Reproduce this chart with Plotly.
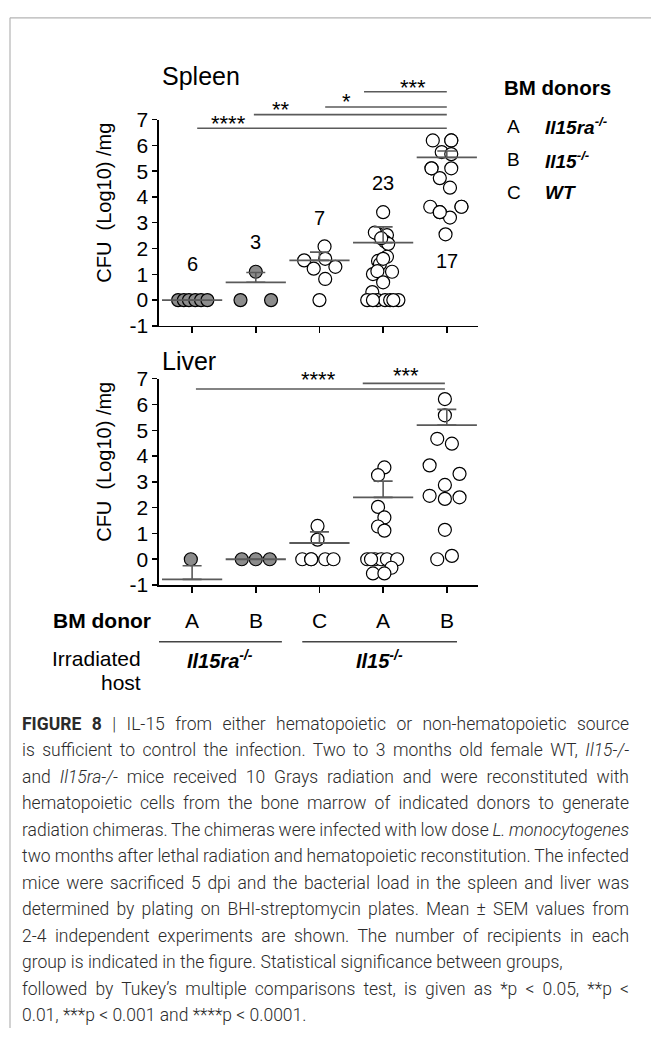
import json
import plotly.graph_objects as go

W, H = 651, 1039

# ---------------- data ----------------
groups = [1, 2, 3, 4, 5]
donor_labels = ["A", "B", "C", "A", "B"]
filled_groups = [True, True, False, False, False]
y_ticks = [-1, 0, 1, 2, 3, 4, 5, 6, 7]

# Spleen: individual values (log10 CFU/mg) and horizontal scatter offsets per group
spleen_vals = [
    [0, 0, 0, 0, 0, 0],
    [0, 1.10, 0],
    [2.08, 1.54, 1.60, 1.22, 1.29, 0.82, 0],
    [3.41, 2.56, 2.52, 2.62, 2.27, 2.18, 2.40, 1.68, 1.52, 1.40, 1.60, 1.10,
     1.01, 1.12, 0.69, 0.31, 0, 0, 0, 0, 0, 0, 0],
    [6.19, 6.19, 5.74, 5.66, 6.19, 5.11, 5.11, 4.73, 4.36, 3.62, 3.41, 3.20,
     3.62, 2.55, 5.11, 3.41, 3.62],
]
spleen_dx = [
    [-0.22, -0.13, -0.05, 0.05, 0.14, 0.24],
    [-0.24, 0, 0.24],
    [0.08, -0.24, 0.09, -0.09, 0.25, 0.09, 0],
    [0, -0.08, 0.06, -0.13, 0.03, 0.08, -0.03, 0.06, -0.08, -0.05, 0, 0.14,
     -0.16, -0.09, 0, -0.17, -0.25, -0.09, 0.03, 0.11, 0.24, -0.16, 0.16],
    [-0.22, 0.07, -0.08, 0.07, 0.07, -0.24, 0.07, -0.11, 0.05, -0.26, -0.11, 0.05,
     0.23, -0.02, -0.24, -0.11, 0.23],
]
spleen_mean = [0, 0.69, 1.54, 2.23, 5.53]
spleen_sem = [0, 0.38, 0.32, 0.61, 0.25]
spleen_n_text = ["6", "3", "7", "23", "17"]
spleen_n_y = [1.40, 2.27, 3.18, 4.55, 1.52]

spleen_sig_from = [1.08, 1.97, 3.09, 3.70]
spleen_sig_to = [5.0, 5.0, 5.0, 5.0]
spleen_sig_y = [6.67, 7.20, 7.50, 8.09]
spleen_sig_text = ["****", "**", "*", "***"]
spleen_sig_text_x = [1.57, 2.40, 3.42, 4.47]
spleen_sig_text_y = [6.84, 7.40, 7.70, 8.24]

# Liver
liver_vals = [
    [0],
    [0, 0, 0],
    [1.29, 0.76, 0, 0, 0, 0, 0],
    [3.56, 3.26, 2.03, 1.62, 1.27, 1.11, 0, 0, 0, 0, 0, -0.33, -0.55, -0.55, 0],
    [6.21, 5.58, 4.67, 4.48, 3.64, 3.31, 2.88, 2.46, 2.34, 2.40, 1.14, 0.0, 0.13],
]
liver_dx = [
    [-0.02],
    [-0.22, 0, 0.22],
    [-0.03, -0.03, -0.27, -0.13, 0.09, 0.22, -0.13],
    [0.02, -0.08, -0.08, 0.02, -0.08, 0.02, -0.25, -0.13, -0.03, 0.06, 0.22,
     0.13, -0.16, 0.02, -0.19],
    [-0.03, -0.03, -0.15, 0.08, -0.27, 0.20, -0.03, -0.27, -0.03, 0.20, -0.03,
     -0.15, 0.08],
]
liver_mean = [-0.78, 0, 0.63, 2.40, 5.20]
liver_sem = [0.53, 0, 0.43, 0.63, 0.61]

liver_sig_from = [1.06, 3.68]
liver_sig_to = [4.97, 4.97]
liver_sig_y = [6.60, 6.82]
liver_sig_text = ["****", "***"]
liver_sig_text_x = [2.98, 4.36]
liver_sig_text_y = [6.95, 7.14]

legend_title = "BM donors"
legend_keys = ["A", "B", "C"]
legend_names = [
    "<b><i>Il15ra<sup>-/-</sup></i></b>",
    "<b><i>Il15<sup>-/-</sup></i></b>",
    "<b><i>WT</i></b>",
]
host_labels = ["<b><i>Il15ra<sup>-/-</sup></i></b>", "<b><i>Il15<sup>-/-</sup></i></b>"]
host_center = [1.44, 3.94]
host_span_from = [0.47, 2.73]
host_span_to = [2.41, 5.16]

caption_lines = [
    "<b>FIGURE 8</b> | IL-15 from either hematopoietic or non-hematopoietic source",
    "is sufficient to control the infection. Two to 3 months old female WT, <i>Il15-/-</i>",
    "and <i>Il15ra-/-</i> mice received 10 Grays radiation and were reconstituted with",
    "hematopoietic cells from the bone marrow of indicated donors to generate",
    "radiation chimeras. The chimeras were infected with low dose <i>L. monocytogenes</i>",
    "two months after lethal radiation and hematopoietic reconstitution. The infected",
    "mice were sacrificed 5 dpi and the bacterial load in the spleen and liver was",
    "determined by plating on BHI-streptomycin plates. Mean ± SEM values from",
    "2-4 independent experiments are shown. The number of recipients in each",
    "group is indicated in the figure. Statistical significance between groups,",
    "followed by Tukey’s multiple comparisons test, is given as *p &lt; 0.05, **p &lt;",
    "0.01, ***p &lt; 0.001 and ****p &lt; 0.0001.",
]
caption_justified = [True, True, True, True, True, True, True, True, True, False, True, False]

# ---------------- layout helpers ----------------
def fx(p):
    return p / W


def fy(p):
    return 1 - p / H


FONT = "Liberation Sans, Arial, sans-serif"
CAP_FONT = "Roboto, Liberation Sans, sans-serif"
GREY_FILL = "#8c8c8c"
LINE_GREY = "#5a5a5a"
CAP_LEFT, CAP_RIGHT = 20, 627

fig = go.Figure()


def add_points(vals, dxs, xa, ya):
    for g, v, d, filled in zip(groups, vals, dxs, filled_groups):
        fig.add_trace(go.Scatter(
            x=[g + o for o in d], y=v, xaxis=xa, yaxis=ya, mode="markers",
            marker=dict(size=13, color=GREY_FILL if filled else "white",
                        line=dict(color="black", width=1.2)),
            showlegend=False, hoverinfo="skip"))


def add_mean(mean, sem, xa, ya):
    fig.add_trace(go.Scatter(
        x=groups, y=mean, xaxis=xa, yaxis=ya, mode="markers",
        marker=dict(symbol="line-ew", size=43, line=dict(color=LINE_GREY, width=1.8)),
        error_y=dict(type="data", array=sem, arrayminus=[0] * len(sem), symmetric=False,
                     color=LINE_GREY, thickness=1.6, width=9.5),
        showlegend=False, hoverinfo="skip"))


add_points(spleen_vals, spleen_dx, "x", "y")
add_mean(spleen_mean, spleen_sem, "x", "y")
add_points(liver_vals, liver_dx, "x2", "y2")
add_mean(liver_mean, liver_sem, "x2", "y2")

x_dom = [fx(159), fx(478)]
x_rng = [0.48, 5.49]
axis_common = dict(showgrid=False, zeroline=False, showline=True, linecolor="black",
                   linewidth=1.6, ticks="outside", tickcolor="black", tickwidth=1.5)
xcommon = dict(axis_common, domain=x_dom, range=x_rng, tickvals=groups,
               showticklabels=False, ticklen=6)
ycommon = dict(axis_common, tickvals=y_ticks, ticktext=[str(v) for v in y_ticks],
               ticklen=5, tickfont=dict(family=FONT, size=21, color="black"))

fig.update_layout(
    width=W, height=H, autosize=False,
    margin=dict(l=0, r=0, t=0, b=0),
    paper_bgcolor="white", plot_bgcolor="rgba(0,0,0,0)",
    showlegend=False,
    xaxis=dict(xcommon, anchor="y"),
    yaxis=dict(ycommon, anchor="x", domain=[fy(321), fy(110)], range=[-1, 7]),
    xaxis2=dict(xcommon, anchor="y2"),
    yaxis2=dict(ycommon, anchor="x2", domain=[fy(586), fy(375)], range=[-1, 7]),
    # invisible overlay subplots holding the significance brackets (same scale, taller)
    xaxis3=dict(domain=x_dom, range=x_rng, visible=False, anchor="y3"),
    yaxis3=dict(domain=[fy(321), fy(76)], range=[-1, 8.3], visible=False, anchor="x3"),
    xaxis4=dict(domain=x_dom, range=x_rng, visible=False, anchor="y4"),
    yaxis4=dict(domain=[fy(586), fy(586 - 9.3 * 26.375)], range=[-1, 8.3],
                visible=False, anchor="x4"),
)

shapes = []
annotations = []

# significance brackets
for x0, x1, y in zip(spleen_sig_from, spleen_sig_to, spleen_sig_y):
    shapes.append(dict(type="line", xref="x3", yref="y3", x0=x0, x1=x1, y0=y, y1=y,
                       line=dict(color=LINE_GREY, width=1.6)))
for t, x, y in zip(spleen_sig_text, spleen_sig_text_x, spleen_sig_text_y):
    annotations.append(dict(text=t, xref="x3", yref="y3", x=x, y=y, showarrow=False,
                            font=dict(family=FONT, size=22, color="black")))
for x0, x1, y in zip(liver_sig_from, liver_sig_to, liver_sig_y):
    shapes.append(dict(type="line", xref="x4", yref="y4", x0=x0, x1=x1, y0=y, y1=y,
                       line=dict(color=LINE_GREY, width=1.6)))
for t, x, y in zip(liver_sig_text, liver_sig_text_x, liver_sig_text_y):
    annotations.append(dict(text=t, xref="x4", yref="y4", x=x, y=y, showarrow=False,
                            font=dict(family=FONT, size=22, color="black")))

# group sizes
for g, t, y in zip(groups, spleen_n_text, spleen_n_y):
    annotations.append(dict(text=t, xref="x", yref="y", x=g, y=y, showarrow=False,
                            font=dict(family=FONT, size=20, color="black")))

# panel titles and y titles
annotations.append(dict(text="Spleen", xref="paper", yref="paper", x=fx(160), y=fy(65),
                        xanchor="left", yanchor="middle", showarrow=False,
                        font=dict(family=FONT, size=25, color="black")))
annotations.append(dict(text="Liver", xref="paper", yref="paper", x=fx(160), y=fy(357),
                        xanchor="left", yanchor="middle", showarrow=False,
                        font=dict(family=FONT, size=25, color="black")))
for yc in (195, 460):
    annotations.append(dict(text="CFU  (Log10) /mg", xref="paper", yref="paper",
                            x=fx(104), y=fy(yc), textangle=-90, showarrow=False,
                            xanchor="center", yanchor="middle",
                            font=dict(family=FONT, size=20, color="black")))

# legend block
annotations.append(dict(text="<b>" + legend_title + "</b>", xref="paper", yref="paper",
                        x=fx(502), y=fy(77), xanchor="left", yanchor="middle",
                        showarrow=False, font=dict(family=FONT, size=20.5, color="black")))
for i, (k, nm) in enumerate(zip(legend_keys, legend_names)):
    yp = 117 + i * 34
    annotations.append(dict(text=k, xref="paper", yref="paper", x=fx(505), y=fy(yp),
                            xanchor="left", yanchor="middle", showarrow=False,
                            font=dict(family=FONT, size=19, color="black")))
    annotations.append(dict(text=nm, xref="paper", yref="paper", x=fx(543), y=fy(yp),
                            xanchor="left", yanchor="middle", showarrow=False,
                            font=dict(family=FONT, size=19, color="black")))

# bottom: donors and hosts
annotations.append(dict(text="<b>BM donor</b>", xref="paper", yref="paper", x=fx(153),
                        y=fy(622), xanchor="right", yanchor="middle", showarrow=False,
                        font=dict(family=FONT, size=21, color="black")))
for g, lab in zip(groups, donor_labels):
    annotations.append(dict(text=lab, xref="x2", yref="paper", x=g, y=fy(622),
                            showarrow=False, yanchor="middle",
                            font=dict(family=FONT, size=21, color="black")))
for x0, x1 in zip(host_span_from, host_span_to):
    shapes.append(dict(type="line", xref="x2", yref="paper", x0=x0, x1=x1,
                       y0=fy(644), y1=fy(644), line=dict(color="#444", width=1.5)))
for xc, lab in zip(host_center, host_labels):
    annotations.append(dict(text=lab, xref="x2", yref="paper", x=xc, y=fy(662),
                            showarrow=False, yanchor="middle",
                            font=dict(family=FONT, size=20, color="black")))
annotations.append(dict(text="Irradiated", xref="paper", yref="paper", x=fx(143), y=fy(661),
                        xanchor="right", yanchor="middle", showarrow=False,
                        font=dict(family=FONT, size=21, color="black")))
annotations.append(dict(text="host", xref="paper", yref="paper", x=fx(143), y=fy(686),
                        xanchor="right", yanchor="middle", showarrow=False,
                        font=dict(family=FONT, size=21, color="black")))

# caption (justified lines are stretched to the right margin after drawing)
justify_idx = []
for i, (line, just) in enumerate(zip(caption_lines, caption_justified)):
    if just:
        justify_idx.append(len(annotations))
    annotations.append(dict(text=line, xref="paper", yref="paper", x=fx(CAP_LEFT),
                            y=fy(728 + i * 27.1), xanchor="left", yanchor="middle",
                            align="left", showarrow=False,
                            font=dict(family=CAP_FONT, size=17.5, weight=300,
                                      color="#2b2b2b")))

# page frame
shapes.append(dict(type="line", xref="paper", yref="paper", x0=fx(10), x1=fx(10),
                   y0=fy(6), y1=0, line=dict(color="#b4b4b4", width=1.2)))
shapes.append(dict(type="line", xref="paper", yref="paper", x0=fx(10), x1=1,
                   y0=fy(6), y1=fy(6), line=dict(color="#b4b4b4", width=1.2)))

fig.update_layout(shapes=shapes, annotations=annotations)

justify_js = (
    "var gd=document.getElementById('{plot_id}');"
    "var idx=" + json.dumps(justify_idx) + ";var target=" + str(CAP_RIGHT - CAP_LEFT) + ";"
    "idx.forEach(function(k){"
    "var g=gd.querySelector('g.annotation[data-index=\"'+k+'\"]');if(!g)return;"
    "var t=g.querySelector('text.annotation-text');if(!t)return;"
    "var len=t.getComputedTextLength();"
    "var n=(t.textContent.match(/ /g)||[]).length;"
    "if(n>0){t.style.wordSpacing=((target-len)/n)+'px';}"
    "});"
)

fig.write_html("out.html",
               config={"staticPlot": True, "displayModeBar": False},
               post_script=["document.body.style.margin='0';"
                            "document.body.style.overflow='hidden';", justify_js])
